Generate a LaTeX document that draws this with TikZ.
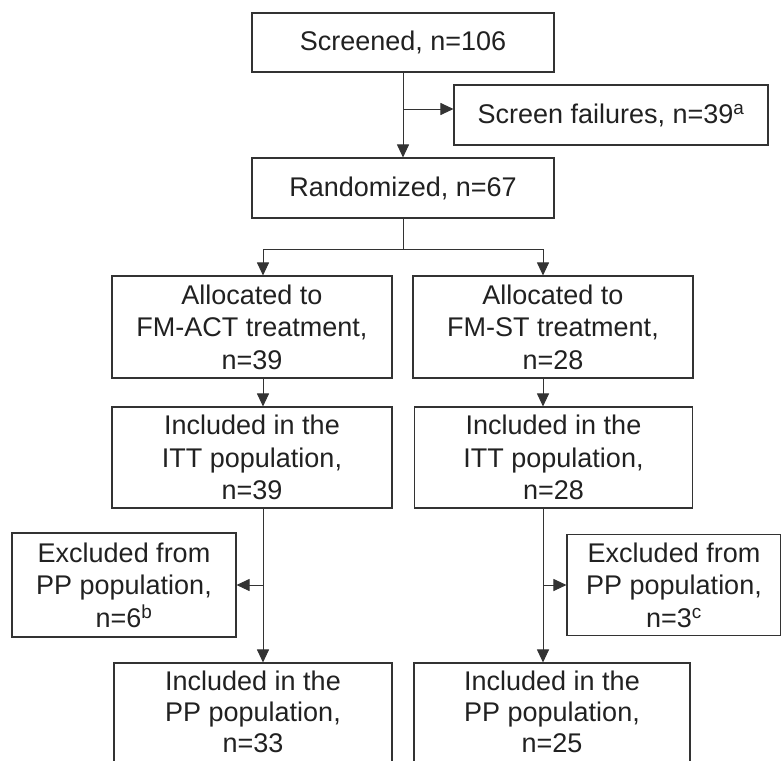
\documentclass[tikz,border=0pt]{standalone}
\usepackage{fontspec}
\setmainfont{Liberation Sans}
\usetikzlibrary{arrows.meta}
\definecolor{txt}{rgb}{0.13,0.13,0.13}
\definecolor{ln}{rgb}{0.2,0.2,0.2}
\begin{document}
\begin{tikzpicture}[x=1pt,y=-1pt,
  box/.style={draw=ln,line width=1.1pt,rectangle,align=center,text=txt,inner sep=0pt,
    font=\fontsize{27}{32.5}\selectfont},
  arr/.style={draw=ln,line width=1pt,-{Triangle[length=13pt,width=12pt]}},
  ln/.style={draw=ln,line width=1pt}]
\clip (0,0) rectangle (781,760);
\fill[white] (0,0) rectangle (781,760);
% nodes
\node[box,minimum width=302pt,minimum height=59pt] (scr) at (403,42.5) {Screened, n=106};
\node[box,minimum width=314pt,minimum height=60pt] (fail) at (611,115) {Screen failures, n=39\textsuperscript{a}};
\node[box,minimum width=302pt,minimum height=60pt] (rand) at (403,188) {Randomized, n=67};
\node[box,minimum width=280pt,minimum height=102pt] (allA) at (252,327) {Allocated to\\FM-ACT treatment,\\n=39};
\node[box,minimum width=280pt,minimum height=102pt] (allS) at (553,327) {Allocated to\\FM-ST treatment,\\n=28};
\node[box,minimum width=280pt,minimum height=101pt] (ittA) at (252,457.5) {Included in the\\ITT population,\\n=39};
\node[box,minimum width=278pt,minimum height=101pt] (ittS) at (553.5,457.5) {Included in the\\ITT population,\\n=28};
\node[box,minimum width=224pt,minimum height=104pt] (exA) at (124,585) {Excluded from\\PP population,\\n=6\textsuperscript{b}};
\node[box,minimum width=214pt,minimum height=101pt] (exS) at (674,585) {Excluded from\\PP population,\\n=3\textsuperscript{c}};
\node[box,minimum width=278pt,minimum height=100pt,font=\fontsize{27}{31}\selectfont] (ppA) at (253,713) {Included in the\\PP population,\\n=33\rule[-3pt]{0pt}{1pt}};
\node[box,minimum width=276pt,minimum height=100pt,font=\fontsize{27}{31}\selectfont] (ppS) at (552,713) {Included in the\\PP population,\\n=25\rule[-3pt]{0pt}{1pt}};
% coordinates
\coordinate (f1) at (403,109);
\coordinate (xA) at (263,249);
\coordinate (xS) at (543,249);
% connectors
\draw[arr] (scr) -- (rand);
\draw[arr] (f1) -- (f1 -| fail.west);
\draw[ln] (rand.south) -- (rand.south |- xA);
\draw[arr] (rand.south |- xA) -- (xA) -- (xA |- allA.north);
\draw[arr] (rand.south |- xS) -- (xS) -- (xS |- allS.north);
\draw[arr] (xA |- allA.south) -- (xA |- ittA.north);
\draw[arr] (xS |- allS.south) -- (xS |- ittS.north);
\draw[arr] (xA |- ittA.south) -- (xA |- ppA.north);
\draw[arr] (xS |- ittS.south) -- (xS |- ppS.north);
\draw[arr] (xA |- exA.east) -- (exA.east);
\draw[arr] (xS |- exS.west) -- (exS.west);
\end{tikzpicture}
\end{document}
